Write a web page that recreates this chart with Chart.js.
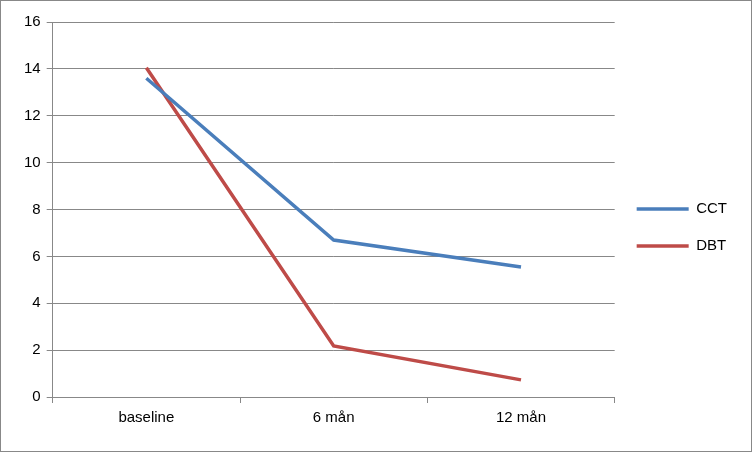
<!DOCTYPE html>
<html><head><meta charset="utf-8">
<script src="https://cdn.jsdelivr.net/npm/chart.js@4"></script>
<style>
html,body{margin:0;padding:0;background:#fff;}
#wrap{position:absolute;left:0;top:0;width:750px;height:450px;border:1px solid #888;}
</style></head><body>
<div id="wrap"><canvas id="c" width="750" height="450"></canvas></div>
<script>
const categories = ["baseline", "6 mån", "12 mån"];
const cctValues = [13.6, 6.7, 5.55];
const dbtValues = [14.05, 2.18, 0.73];
const yTicks = [0, 2, 4, 6, 8, 10, 12, 14, 16];

new Chart(document.getElementById('c'), {
  type: 'line',
  data: {
    labels: categories,
    datasets: [
      {label: 'CCT', data: cctValues, borderColor: '#4A7EBB', backgroundColor: '#4A7EBB', borderWidth: 3.5, pointRadius: 0, tension: 0},
      {label: 'DBT', data: dbtValues, borderColor: '#BE4B48', backgroundColor: '#BE4B48', borderWidth: 3.5, pointRadius: 0, tension: 0}
    ]
  },
  options: {
    responsive: false, animation: false,
    layout: {padding: {left: 17, right: 14, top: 21, bottom: 18}},
    plugins: {
      legend: {
        position: 'right',
        labels: {usePointStyle: true, pointStyle: 'line', pointStyleWidth: 52, padding: 22,
          font: {family: 'Liberation Sans', size: 15}, color: '#000'}
      },
      tooltip: {enabled: false}
    },
    scales: {
      x: {
        offset: true,
        grid: {offset: true, drawOnChartArea: false, color: '#888', tickLength: 6},
        border: {color: '#888'},
        ticks: {font: {family: 'Liberation Sans', size: 15}, color: '#000', padding: 6}
      },
      y: {
        min: 0, max: 16,
        afterBuildTicks: ax => { ax.ticks = yTicks.map(v => ({value: v})); },
        grid: {color: '#888', tickLength: 6},
        border: {color: '#888'},
        ticks: {font: {family: 'Liberation Sans', size: 15}, color: '#000', padding: 6}
      }
    }
  }
});
</script></body></html>
